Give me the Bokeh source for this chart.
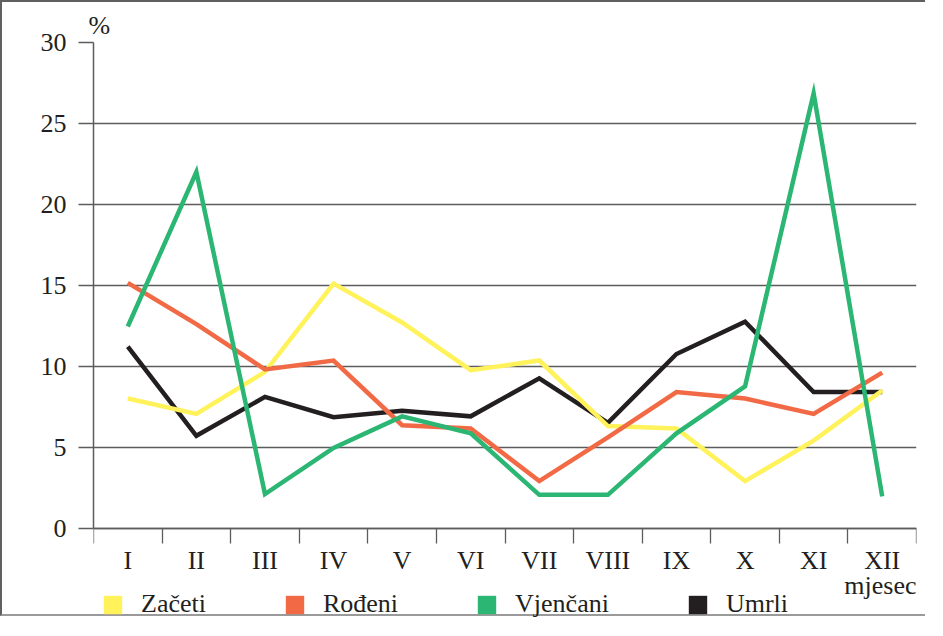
import numpy as np
from bokeh.plotting import figure
from bokeh.models import Range1d, FixedTicker, Label, Legend, LegendItem, LinearAxis
from bokeh.embed import file_html
from bokeh.resources import INLINE

months = ["I", "II", "III", "IV", "V", "VI", "VII", "VIII", "IX", "X", "XI", "XII"]
zaceti = [8.0, 7.05, 9.65, 15.1, 12.7, 9.75, 10.35, 6.3, 6.15, 2.9, 5.4, 8.5]
rodeni = [15.15, 12.6, 9.8, 10.35, 6.35, 6.15, 2.9, 5.6, 8.4, 8.0, 7.05, 9.6]
vjencani = [12.45, 22.0, 2.1, 4.95, 6.9, 5.85, 2.05, 2.05, 5.85, 8.75, 26.85, 1.95]
umrli = [11.2, 5.7, 8.1, 6.85, 7.25, 6.9, 9.25, 6.5, 10.75, 12.75, 8.4, 8.4]
y_ticks = [0, 5, 10, 15, 20, 25, 30]
series_names = ["Začeti", "Rođeni", "Vjenčani", "Umrli"]
colors = ["#FFF25A", "#F26A45", "#2BB673", "#231F20"]

FONT = "Liberation Serif"
GRAY = "#5c5c5c"
TXT = "#231F20"

x_centers = [i + 0.5 for i in range(len(months))]

# frame: 485.5 px for 0..30 -> extend below 0 so legend area lies inside the frame
px_per_unit = 485.5 / 30.0
frame_h = 576
y_start = 30 - frame_h / px_per_unit

p = figure(width=925, height=616, output_backend="svg", toolbar_location=None,
           x_range=Range1d(0, len(months)), y_range=Range1d(y_start, 30),
           x_axis_location=None,
           min_border_left=91, min_border_top=40, min_border_right=11, min_border_bottom=0,
           styles={"border-left": "2px solid #606060", "border-top": "2px solid #606060",
                   "border-bottom": "2px solid #9a9a9a"})
p.outline_line_color = None
p.background_fill_color = "white"
p.border_fill_color = "white"

p.title.text = "%"
p.title.align = "left"
p.title.offset = -5
p.title.standoff = 6
p.title.text_font = FONT
p.title.text_font_size = "26px"
p.title.text_font_style = "normal"
p.title.text_color = TXT

p.xgrid.visible = False
p.ygrid.ticker = FixedTicker(ticks=y_ticks)
p.ygrid.grid_line_color = GRAY
p.ygrid.grid_line_width = 1.3

# y axis
ya = p.yaxis[0]
ya.ticker = FixedTicker(ticks=y_ticks)
ya.bounds = (0, 30)
ya.major_tick_out = 15
ya.major_tick_in = 0
ya.minor_tick_line_color = None
ya.major_tick_line_color = GRAY
ya.major_tick_line_width = 1.3
ya.axis_line_color = GRAY
ya.axis_line_width = 1.5
ya.major_label_text_font = FONT
ya.major_label_text_font_size = "26px"
ya.major_label_text_color = TXT
ya.major_label_standoff = 12

# x axis, fixed at y = 0 inside the extended frame
xa = LinearAxis(fixed_location=0)
xa.ticker = FixedTicker(ticks=x_centers, minor_ticks=list(range(len(months) + 1)))
xa.major_label_overrides = {c: m for c, m in zip(x_centers, months)}
xa.major_tick_out = 0
xa.major_tick_in = 0
xa.major_tick_line_color = None
xa.minor_tick_out = 15
xa.minor_tick_in = 0
xa.minor_tick_line_color = GRAY
xa.minor_tick_line_width = 1.3
xa.axis_line_color = GRAY
xa.axis_line_width = 1.5
xa.major_label_text_font = FONT
xa.major_label_text_font_size = "26px"
xa.major_label_text_color = TXT
xa.major_label_standoff = 3
p.add_layout(xa, "below")

series = [zaceti, rodeni, vjencani, umrli]
draw_order = [3, 0, 1, 2]
for i in draw_order:
    p.line(x_centers, series[i], line_color=colors[i], line_width=4.5, line_join="miter")

# legend swatches: zero-size (invisible) quads used only as legend proxies
items = []
for name, col in zip(series_names, colors):
    r = p.quad(left=[0], right=[0], bottom=[0], top=[0], fill_color=col, line_color=None)
    items.append(LegendItem(label=name, renderers=[r]))

legend = Legend(items=items, orientation="horizontal", location=(8, -1),
                glyph_width=23, glyph_height=23, label_standoff=17, spacing=77,
                padding=0, margin=0, border_line_color=None, background_fill_alpha=0,
                label_text_font=FONT, label_text_font_size="26px", label_text_color=TXT)
p.add_layout(legend)

p.add_layout(Label(x=len(months), y=0, text="mjesec", text_align="right", y_offset=-57,
                   text_baseline="alphabetic", text_font=FONT, text_font_size="26px",
                   text_color=TXT))

open("out.html", "w").write(file_html(p, INLINE))
